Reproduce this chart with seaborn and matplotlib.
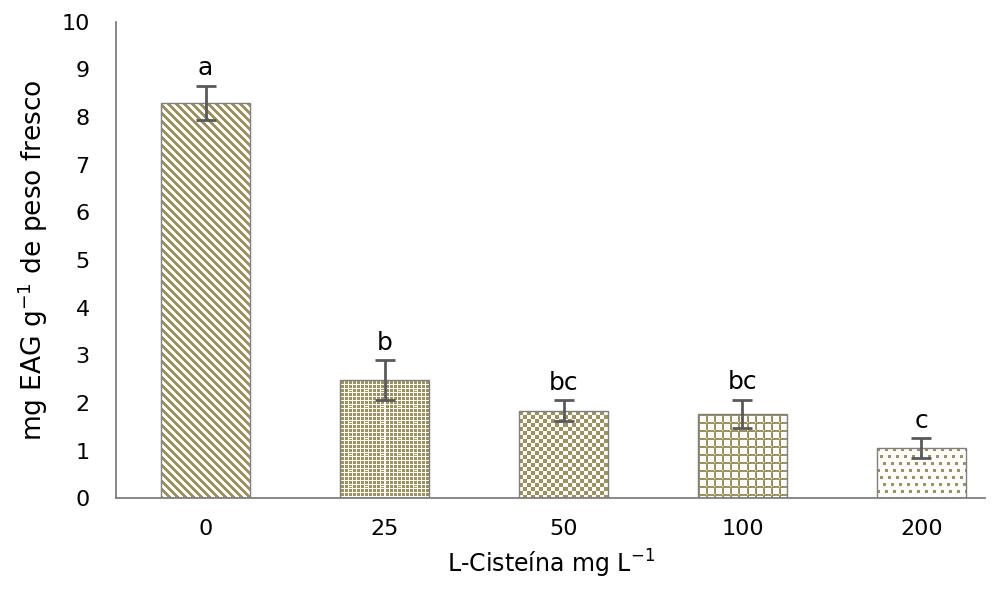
import numpy as np
import pandas as pd
import matplotlib
matplotlib.use("Agg")
import matplotlib.pyplot as plt
import seaborn as sns

categories = ["0", "25", "50", "100", "200"]
means = [8.30, 2.48, 1.84, 1.77, 1.05]
errors = [0.36, 0.42, 0.22, 0.30, 0.21]
letters = ["a", "b", "bc", "bc", "c"]

OLIVE = np.array([157, 145, 96]) / 255.0
WHITE = np.array([1.0, 1.0, 1.0])

sns.set_style("white")
plt.rcParams["font.family"] = ["DejaVu Sans"]
plt.rcParams["text.color"] = "black"
plt.rcParams["axes.labelcolor"] = "black"

df = pd.DataFrame({"dose": categories, "val": means})

fig = plt.figure(figsize=(10.01, 5.89), dpi=100)
ax = fig.add_axes([0.116, 0.154, 0.868, 0.809])

sns.barplot(data=df, x="dose", y="val", order=categories, width=0.5,
            color="white", errorbar=None, ax=ax, zorder=3)

ax.set_xlim(-0.5, 4.355)
ax.set_ylim(0, 10)
ax.set_yticks(range(0, 11))
ax.tick_params(axis="both", length=0, labelsize=16, colors="black")
ax.tick_params(axis="y", pad=19)
ax.tick_params(axis="x", pad=15)
for s in ["top", "right"]:
    ax.spines[s].set_visible(False)
for s in ["left", "bottom"]:
    ax.spines[s].set_color("#7f7f7f")
    ax.spines[s].set_linewidth(1.3)
ax.set_xlabel("L-Cisteína mg L$^{-1}$", fontsize=17, labelpad=6, color="black")
ax.set_ylabel("mg EAG g$^{-1}$ de peso fresco", fontsize=19, labelpad=8, color="black")


def pattern(kind, h, w):
    i, j = np.mgrid[0:h, 0:w]
    if kind == 0:
        mask = ((i - j) % 8) < 4
    elif kind == 1:
        mask = ~((i % 4 == 0) | (j % 4 == 0))
        mask = mask & ~(((i // 4) % 4 == 2) & ((j // 4) % 4 == 2) & (i % 4 == 2))
    elif kind == 2:
        mask = ((i // 4 + j // 4) % 2) == 0
    elif kind == 3:
        mask = (i % 8 < 2) | (j % 8 < 2)
        mask = mask & ~(((i % 8) == 0) & ((j % 8) == 0))
    else:
        r = i % 21
        band = r // 7
        shift = np.choose(band, [0, 5, 2])
        c = (j + shift) % 8
        mask = ((r % 7) < 3) & (c < 3)
    img = np.where(mask[..., None], OLIVE, WHITE)
    return img


fig.canvas.draw()
inv = ax.transData.inverted()
bars = [p for p in ax.patches]
xs = []
for k, p in enumerate(bars):
    x0 = p.get_x()
    w = p.get_width()
    xs.append(x0 + w / 2)
    ext = p.get_window_extent()
    px0, px1 = round(ext.x0), round(ext.x1)
    py0, py1 = round(ext.y0), round(ext.y1)
    (dx0, dy0), (dx1, dy1) = inv.transform([(px0, py0), (px1, py1)])
    img = pattern(k, max(py1 - py0, 1), max(px1 - px0, 1))
    im = ax.imshow(img, extent=(dx0, dx1, dy0, dy1), aspect="auto",
                   interpolation="nearest", zorder=2, origin="upper",
                   resample=False)
    im.set_clip_path(p)
    p.set_facecolor("none")
    p.set_edgecolor("#7f7f7f")
    p.set_linewidth(1.0)

ax.set_xlim(-0.5, 4.355)
ax.set_ylim(0, 10)

ax.errorbar(xs, means, yerr=errors, fmt="none", ecolor="#595959",
            elinewidth=2, capsize=7, capthick=2, zorder=4)

for x, m, e, t in zip(xs, means, errors, letters):
    ax.annotate(t, (x, m + e), xytext=(0, 4), textcoords="offset points",
                ha="center", va="bottom", fontsize=18)

fig.savefig("out.png", dpi=100)
